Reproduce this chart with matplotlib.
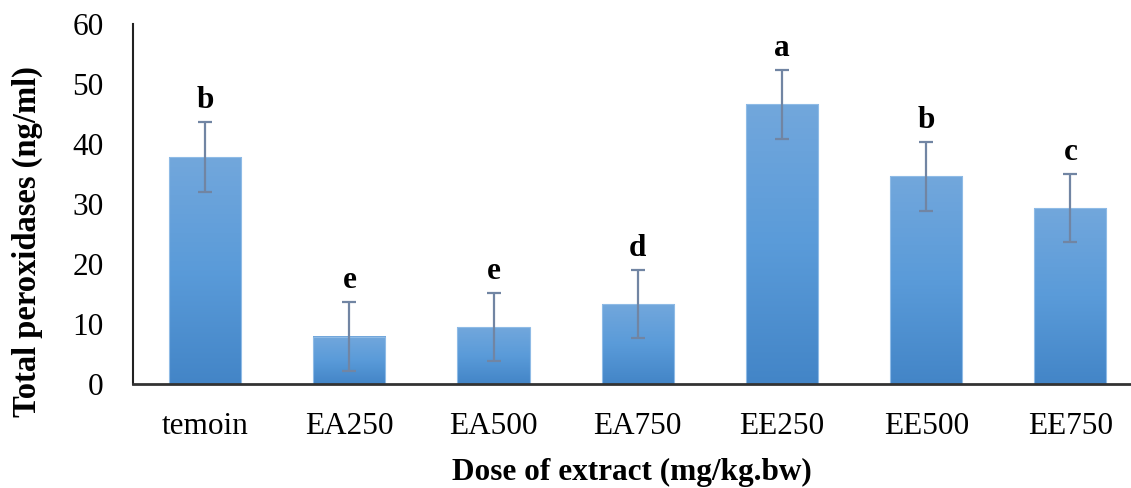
import numpy as np
import matplotlib
matplotlib.use("Agg")
import matplotlib.pyplot as plt
from matplotlib.colors import LinearSegmentedColormap

# data
groups = ["temoin", "EA250", "EA500", "EA750", "EE250", "EE500", "EE750"]
means = [37.8, 7.9, 9.5, 13.3, 46.6, 34.6, 29.3]
errors = [5.8, 5.8, 5.7, 5.7, 5.7, 5.7, 5.7]
letters = ["b", "e", "e", "d", "a", "b", "c"]

plt.rcParams['font.family'] = ['Liberation Serif', 'DejaVu Serif']

W, H = 1131, 488
fig = plt.figure(figsize=(W / 100, H / 100), dpi=100)
ax = fig.add_axes([133 / W, (H - 384) / H, 1 - 133 / W, 360 / H])

x = np.arange(len(groups))
bars = ax.bar(x, means, width=0.5, color='none', edgecolor='#8fbbe6',
              linewidth=0.8, zorder=2)

# vertical gradient inside each bar
cmap = LinearSegmentedColormap.from_list('bar', ['#4385c7', '#5a9bd9', '#72a7dc'])
grad = np.linspace(0, 1, 256).reshape(-1, 1)
for b in bars:
    x0, w, h = b.get_x(), b.get_width(), b.get_height()
    ax.imshow(grad, extent=[x0, x0 + w, 0, h], origin='lower', aspect='auto',
              cmap=cmap, zorder=1, interpolation='bicubic')

ax.errorbar(x, means, yerr=errors, fmt='none', ecolor='#7185a3',
            elinewidth=1.6, capsize=5, capthick=1.6, zorder=3)

for xi, m, e, lab in zip(x, means, errors, letters):
    ax.text(xi, m + e + 1.2, lab, ha='center', va='bottom', fontsize=22.5,
            fontweight='bold')

ax.set_xlim(-0.5, 6.42)
ax.set_ylim(0, 60)
ax.set_yticks(np.arange(0, 61, 10))
ax.set_xticks(x)
ax.set_xticklabels(groups)
ax.tick_params(axis='both', length=0, labelsize=22.5)
ax.tick_params(axis='y', pad=21)
ax.tick_params(axis='x', pad=20)

for s in ['top', 'right']:
    ax.spines[s].set_visible(False)
ax.spines['left'].set_color('#222222')
ax.spines['left'].set_linewidth(1.5)
ax.spines['bottom'].set_color('#333333')
ax.spines['bottom'].set_linewidth(2)

ax.set_ylabel('Total peroxidases (ng/ml)', fontsize=23.5, fontweight='bold',
              va='center')
ax.yaxis.set_label_coords(-0.106, 0.395)
ax.set_xlabel('Dose of extract (mg/kg.bw)', fontsize=22.5, fontweight='bold',
              labelpad=12)

fig.savefig('out.png', dpi=100)
